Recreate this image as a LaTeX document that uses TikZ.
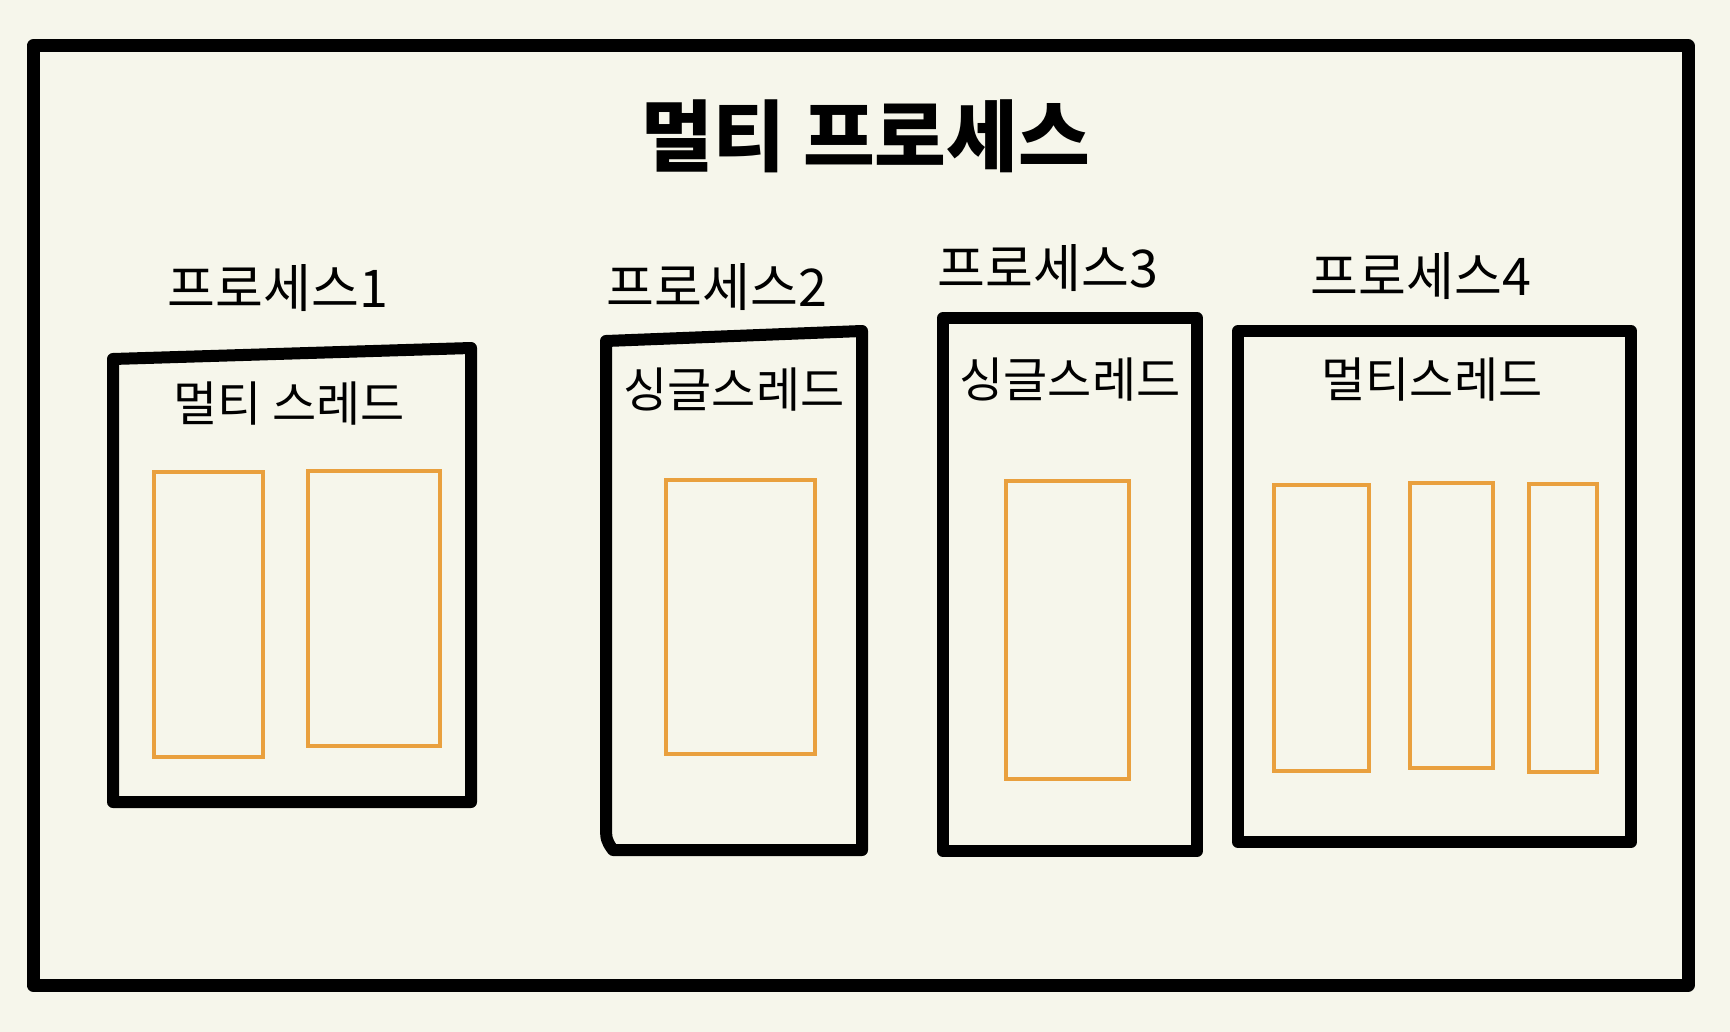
\documentclass[tikz,border=0pt]{standalone}
\usepackage{fontspec}
\newfontfamily\kr{Noto Sans CJK KR}
\usepackage{tikz}
\usetikzlibrary{positioning}

\definecolor{paper}{HTML}{F6F6EB}
\definecolor{thread}{HTML}{E9A03E}

\begin{document}
\begin{tikzpicture}[x=1pt,y=-1pt,
    frame/.style={line width=12pt,line join=round,line cap=round},
    thr/.style={draw=thread,line width=4pt},
    plabel/.style={font=\kr\fontsize{52}{54}\selectfont},
    tlabel/.style={font=\kr\fontsize{48}{50}\selectfont}]

\fill[paper] (0,0) rectangle (1730,1032);
\useasboundingbox (0,0) rectangle (1730,1032);

% outer frame
\draw[frame,line width=13pt] (33,46) rectangle (1688,985);

\node[font=\kr\bfseries\fontsize{78}{80}\selectfont] (title) at (866,136) {멀티 프로세스};

% process 1
\node[plabel] (p1) at (278,288) {프로세스1};
\draw[frame] (113,359) -- (471,348) -- (471,802) -- (113,802) -- (113,774) -- cycle;
\node[tlabel] (t1) at (289,404) {멀티 스레드};
\draw[thr] (154,472) rectangle (263,757);
\draw[thr] (308,471) rectangle (440,746);

% process 2
\node[plabel] (p2) at (717,287) {프로세스2};
\draw[frame] (606,341) -- (862,331) -- (862,850) -- (613,850)
    .. controls (606,840) .. (606,822) -- cycle;
\node[tlabel] (t2) at (734,390) {싱글스레드};
\draw[thr] (666,480) rectangle (815,754);

% process 3
\node[plabel] (p3) at (1048,268) {프로세스3};
\draw[frame] (943,318) rectangle (1197,851);
\node[tlabel] (t3) at (1070,380) {싱글스레드};
\draw[thr] (1006,481) rectangle (1129,779);

% process 4
\node[plabel] (p4) at (1421,276) {프로세스4};
\draw[frame] (1238,331) rectangle (1631,842);
\node[tlabel] (t4) at (1432,380) {멀티스레드};
\draw[thr] (1274,485) rectangle (1369,771);
\draw[thr] (1410,483) rectangle (1493,768);
\draw[thr] (1529,484) rectangle (1597,772);

\end{tikzpicture}
\end{document}
